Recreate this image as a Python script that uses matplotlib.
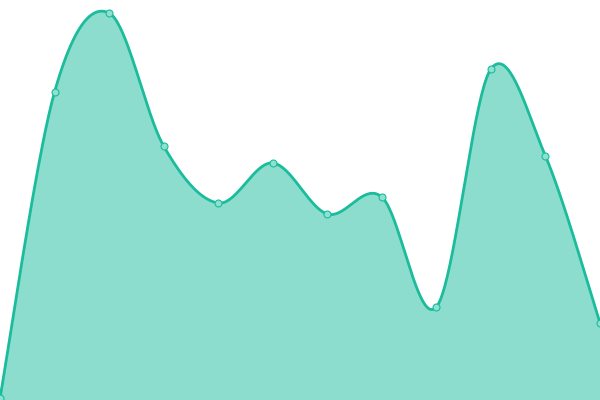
import numpy as np
from matplotlib import pyplot as plt

# values (0 = bottom edge, 400 = top edge)
steps = list(range(12))
values = [2, 308, 387, 254, 197, 237, 186, 203, 93, 331, 244, 77]

line_color = '#1abc9c'


def catmull_rom(xs, ys, n=40):
    # uniform Catmull-Rom through every point, ends duplicated
    px = [xs[0]] + list(xs) + [xs[-1]]
    py = [ys[0]] + list(ys) + [ys[-1]]
    out_x, out_y = [], []
    t = np.linspace(0, 1, n, endpoint=False)
    for i in range(1, len(px) - 2):
        for p, out in ((px, out_x), (py, out_y)):
            p0, p1, p2, p3 = p[i - 1], p[i], p[i + 1], p[i + 2]
            seg = 0.5 * ((2 * p1) + (-p0 + p2) * t
                         + (2 * p0 - 5 * p1 + 4 * p2 - p3) * t ** 2
                         + (-p0 + 3 * p1 - 3 * p2 + p3) * t ** 3)
            out.extend(seg)
    out_x.append(xs[-1])
    out_y.append(ys[-1])
    return np.array(out_x), np.array(out_y)


fig = plt.figure(figsize=(6, 4), dpi=100)
ax = fig.add_axes([0, 0, 1, 1])

cx, cy = catmull_rom(steps, values)
ax.fill_between(cx, cy, 0, facecolor=line_color, alpha=0.5, linewidth=0)
ax.plot(cx, cy, color=line_color, linewidth=2.0, solid_capstyle='round')
ax.plot(steps, values, 'o', markersize=5, markerfacecolor='#8ee0d0',
        markeredgecolor=line_color, markeredgewidth=0.8)

ax.set_xlim(0, 11)
ax.set_ylim(0, 400)
ax.axis('off')

fig.savefig('out.png', dpi=100)
